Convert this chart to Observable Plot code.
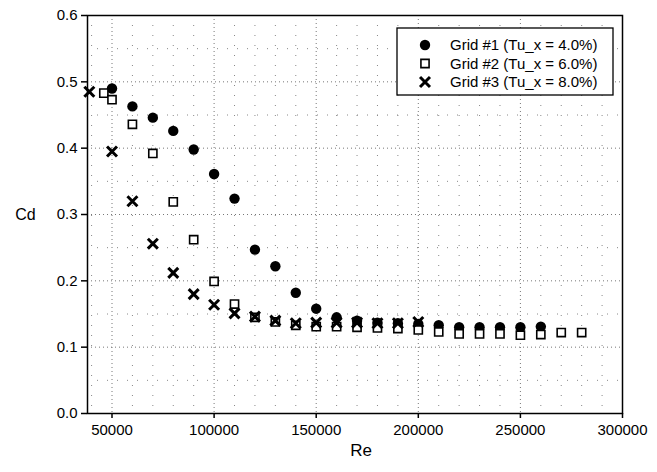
<!DOCTYPE html>
<html>
<head>
<meta charset="utf-8">
<script src="https://cdn.jsdelivr.net/npm/d3@7"></script>
<script src="https://cdn.jsdelivr.net/npm/@observablehq/plot@0.6"></script>
<style>
  html, body { margin: 0; padding: 0; background: #fff; }
  #chart { position: relative; width: 657px; height: 472px; }
  svg { font-family: "Liberation Sans", Arial, sans-serif; }
</style>
</head>
<body>
<div id="chart"></div>
<script>
// ---- data ----
const seriesNames = ["Grid #1 (Tu_x = 4.0%)", "Grid #2 (Tu_x = 6.0%)", "Grid #3 (Tu_x = 8.0%)"];

const grid1Re = [50000, 60000, 70000, 80000, 90000, 100000, 110000, 120000, 130000, 140000, 150000,
  160000, 170000, 180000, 190000, 200000, 210000, 220000, 230000, 240000, 250000, 260000];
const grid1Cd = [0.490, 0.463, 0.446, 0.426, 0.398, 0.361, 0.324, 0.247, 0.222, 0.182, 0.158,
  0.145, 0.140, 0.137, 0.136, 0.135, 0.133, 0.130, 0.130, 0.130, 0.130, 0.131];

const grid2Re = [46000, 50000, 60000, 70000, 80000, 90000, 100000, 110000, 120000, 130000, 140000, 150000,
  160000, 170000, 180000, 190000, 200000, 210000, 220000, 230000, 240000, 250000, 260000, 270000, 280000];
const grid2Cd = [0.483, 0.473, 0.436, 0.392, 0.319, 0.262, 0.199, 0.165, 0.145, 0.138, 0.133, 0.131,
  0.131, 0.130, 0.129, 0.128, 0.126, 0.123, 0.120, 0.120, 0.120, 0.118, 0.119, 0.122, 0.122];

const grid3Re = [38900, 50000, 60000, 70000, 80000, 90000, 100000, 110000, 120000, 130000, 140000, 150000,
  160000, 170000, 180000, 190000, 200000];
const grid3Cd = [0.485, 0.395, 0.320, 0.256, 0.212, 0.180, 0.164, 0.151, 0.146, 0.140, 0.136, 0.137,
  0.137, 0.137, 0.136, 0.136, 0.138];

const xTicks = [50000, 100000, 150000, 200000, 250000, 300000];
const yTicks = [0.0, 0.1, 0.2, 0.3, 0.4, 0.5, 0.6];
const xMinor = d3.range(40000, 300001, 10000).filter(v => v % 50000 !== 0);
const yMinor = [0.05, 0.15, 0.25, 0.35, 0.45, 0.55];
const xDomain = [38000, 300000];
const yDomain = [0, 0.6];

const toRows = (re, cd) => re.map((r, i) => ({Re: r, Cd: cd[i]}));
const g1 = toRows(grid1Re, grid1Cd);
const g2 = toRows(grid2Re, grid2Cd);
const g3 = toRows(grid3Re, grid3Cd);

const plot = Plot.plot({
  width: 657,
  height: 472,
  marginLeft: 87,
  marginRight: 35,
  marginTop: 15,
  marginBottom: 59,
  style: {fontFamily: "'Liberation Sans', Arial, sans-serif", fontSize: "15px", color: "#000", background: "#fff"},
  x: {domain: xDomain},
  y: {domain: yDomain},
  marks: [
    // minor grid
    Plot.ruleX(xMinor.filter(v => v > xDomain[0]), {stroke: "#888", strokeWidth: 1, strokeDasharray: "1,9"}),
    Plot.ruleY(yMinor, {stroke: "#888", strokeWidth: 1, strokeDasharray: "1,9"}),
    // major grid
    Plot.ruleX(xTicks.filter(v => v < xDomain[1]), {stroke: "#777", strokeWidth: 1, strokeDasharray: "1,3"}),
    Plot.ruleY(yTicks.filter(v => v > 0 && v < 0.6), {stroke: "#777", strokeWidth: 1, strokeDasharray: "1,3"}),
    Plot.frame({stroke: "#000", strokeWidth: 1.5}),
    Plot.axisX({ticks: xTicks, tickFormat: d => String(d), tickSize: 5, tickPadding: 6, label: null, stroke: "#000", strokeWidth: 1.5, fontSize: 15}),
    Plot.axisY({ticks: yTicks, tickFormat: d3.format(".1f"), tickSize: 6, tickPadding: 4, label: null, stroke: "#000", strokeWidth: 1.5, fontSize: 15}),
    Plot.text(["Cd"], {frameAnchor: "left", dx: -62, dy: 0, text: d => d, fontSize: 16, textAnchor: "middle", fill: "#000"}),
    Plot.text(["Re"], {frameAnchor: "bottom", dx: 6, dy: 42, text: d => d, fontSize: 17, textAnchor: "middle", fill: "#000"}),
    // data
    Plot.dot(g1, {x: "Re", y: "Cd", symbol: "circle", r: 5.2, fill: "#000", stroke: "none"}),
    Plot.dot(g2, {x: "Re", y: "Cd", symbol: "square", r: 4.6, fill: "#fff", stroke: "#000", strokeWidth: 1.6}),
    Plot.dot(g3, {x: "Re", y: "Cd", symbol: "times", r: 4.6, fill: "none", stroke: "#000", strokeWidth: 3})
  ]
});

document.getElementById("chart").appendChild(plot);

// legend inside the plot svg
const svg = d3.select(plot);
const lg = svg.append("g").attr("transform", "translate(397,28)").attr("text-anchor", "start");
lg.append("rect").attr("width", 216).attr("height", 67).attr("fill", "#fff").attr("stroke", "#000").attr("stroke-width", 1.3);
const symbols = [d3.symbolCircle, d3.symbolSquare, d3.symbolTimes];
const symStyles = [
  {fill: "#000", stroke: "none", sw: 0, size: Math.PI * 5.2 * 5.2},
  {fill: "#fff", stroke: "#000", sw: 1.6, size: Math.PI * 4.6 * 4.6},
  {fill: "none", stroke: "#000", sw: 3, size: Math.PI * 4.6 * 4.6}
];
seriesNames.forEach((name, i) => {
  const row = lg.append("g").attr("transform", `translate(0,${17 + i * 18.5})`);
  row.append("path")
    .attr("transform", "translate(28,0)")
    .attr("d", d3.symbol(symbols[i], symStyles[i].size)())
    .attr("fill", symStyles[i].fill)
    .attr("stroke", symStyles[i].stroke)
    .attr("stroke-width", symStyles[i].sw);
  row.append("text")
    .attr("x", 53).attr("y", 0).attr("dy", "0.35em")
    .attr("text-anchor", "start")
    .attr("font-size", 15).attr("fill", "#000")
    .text(name);
});
</script>
</body>
</html>
